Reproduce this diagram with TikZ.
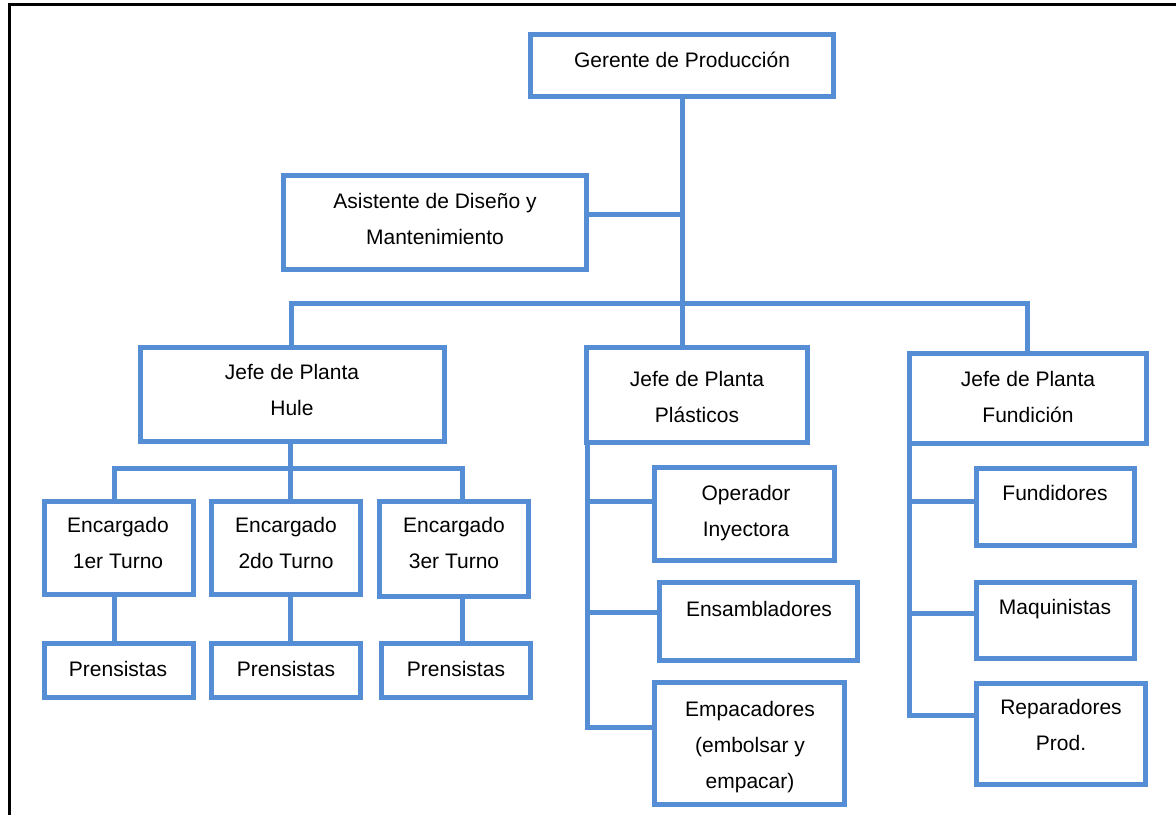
\documentclass[tikz,border=0pt]{standalone}
\usepackage{fontspec}
\setmainfont{Liberation Sans}
\usetikzlibrary{calc}
\definecolor{orgblue}{RGB}{85,142,213}
\tikzset{
  orgbox/.style={draw=orgblue, line width=5pt, inner sep=0pt, outer sep=0pt},
  orgtext/.style={font=\fontsize{21}{36}\selectfont, align=center, inner sep=0pt, text=black},
  link/.style={draw=orgblue, line width=5pt},
  frameline/.style={draw=black, line width=3pt}
}
% box from its outer edges: name, x1, y1, x2, y2
\newcommand\orgbox[5]{%
  \node[orgbox, minimum width={(#4-#2-5)*1pt}, minimum height={(#5-#3-5)*1pt}]
    (#1) at ({(#2+#4)/2},{(#3+#5)/2}) {};}
% centred label: name, x, y, text
\newcommand\orglabel[4]{\node[orgtext] (#1) at (#2,#3) {#4};}

\begin{document}
\begin{tikzpicture}[x=1pt, y=-1pt]
\useasboundingbox (0,0) rectangle (1176,815);

% frame
\draw[frameline] (9.5,815) -- (9.5,4.5) -- (1176,4.5);

% boxes
\orgbox{gerente}{528}{32}{836}{99}
\orgbox{asist}{281}{173}{589}{272}
\orgbox{hule}{138}{345}{447}{444}
\orgbox{plast}{584}{345}{810}{445}
\orgbox{fund}{907}{351}{1149}{446}
\orgbox{enc1}{42}{499}{196}{597}
\orgbox{enc2}{209}{499}{363}{597}
\orgbox{enc3}{377}{499}{531}{599}
\orgbox{pren1}{42}{641}{196}{700}
\orgbox{pren2}{209}{641}{363}{700}
\orgbox{pren3}{379}{641}{533}{700}
\orgbox{oper}{652}{465}{837}{563}
\orgbox{ensam}{657}{580}{860}{663}
\orgbox{empac}{652}{680}{847}{807}
\orgbox{fundid}{974}{466}{1137}{548}
\orgbox{maqui}{974}{580}{1137}{661}
\orgbox{repar}{974}{681}{1148}{787}

% labels
\orglabel{gerente-t}{682}{60}{\strut Gerente de Producción}
\orglabel{asist-t}{435}{219.5}{\strut Asistente de Diseño y\\\strut Mantenimiento}
\orglabel{hule-t}{292}{390.5}{\strut Jefe de Planta\\\strut Hule}
\orglabel{plast-t}{697}{397.5}{\strut Jefe de Planta\\\strut Plásticos}
\orglabel{fund-t}{1028}{397}{\strut Jefe de Planta\\\strut Fundición}
\orglabel{enc1-t}{118}{543.5}{\strut Encargado\\\strut 1er Turno}
\orglabel{enc2-t}{286}{543.5}{\strut Encargado\\\strut 2do Turno}
\orglabel{enc3-t}{454}{543.5}{\strut Encargado\\\strut 3er Turno}
\orglabel{pren1-t}{118}{669}{\strut Prensistas}
\orglabel{pren2-t}{286}{669}{\strut Prensistas}
\orglabel{pren3-t}{456}{669}{\strut Prensistas}
\orglabel{oper-t}{746}{511}{\strut Operador\\\strut Inyectora}
\orglabel{ensam-t}{759}{609}{\strut Ensambladores}
\orglabel{empac-t}{750}{745}{\strut Empacadores\\\strut (embolsar y\\\strut empacar)}
\orglabel{fundid-t}{1055}{493}{\strut Fundidores}
\orglabel{maqui-t}{1055}{607}{\strut Maquinistas}
\orglabel{repar-t}{1061}{725.5}{\strut Reparadores\\\strut Prod.}

% junction points
\coordinate (trunk) at (682,303);
\coordinate (asistj) at (682,214);
\coordinate (busL) at (291,303);
\coordinate (busR) at (1027,303);
\coordinate (hdrop) at (290,468);
\coordinate (subL) at (114,468);
\coordinate (subR) at (462,468);
\coordinate (plL) at (587,727);
\coordinate (opj) at (587,501);
\coordinate (ensj) at (587,612);
\coordinate (fuL) at (909,715);
\coordinate (fdj) at (909,501);
\coordinate (mqj) at (909,613);

% connectors
\draw[link] (gerente.south -| trunk) -- (plast.north -| trunk);
\draw[link] (asist.east |- asistj) -- (asistj);
\draw[link] (hule.north -| busL) -- (busL) -- (busR) -- (fund.north -| busR);

\draw[link] (hule.south -| hdrop) -- (enc2.north -| hdrop);
\draw[link] (enc1.north -| subL) -- (subL) -- (subR) -- (enc3.north -| subR);
\draw[link] (enc1.south -| subL) -- (pren1.north -| subL);
\draw[link] (enc2.south -| hdrop) -- (pren2.north -| hdrop);
\draw[link] (enc3.south -| subR) -- (pren3.north -| subR);

\draw[link] (plast.south -| plL) -- (plL) -- (empac.west |- plL);
\draw[link] (opj) -- (oper.west |- opj);
\draw[link] (ensj) -- (ensam.west |- ensj);

\draw[link] (fund.south -| fuL) -- (fuL) -- (repar.west |- fuL);
\draw[link] (fdj) -- (fundid.west |- fdj);
\draw[link] (mqj) -- (maqui.west |- mqj);
\end{tikzpicture}
\end{document}
